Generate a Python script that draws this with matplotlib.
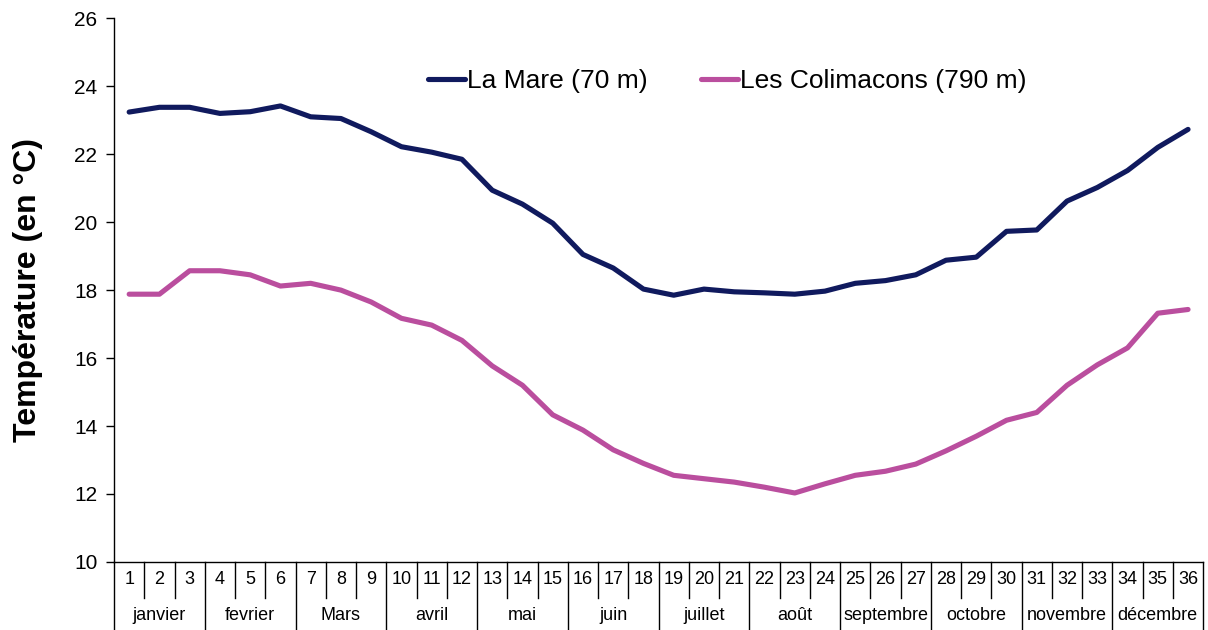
import matplotlib.pyplot as plt
import matplotlib.transforms as mtransforms
import numpy as np

plt.rcParams['font.family'] = ['Liberation Sans', 'DejaVu Sans']

# decades 1..36
decades = list(range(1, 37))
months = ['janvier', 'fevrier', 'Mars', 'avril', 'mai', 'juin',
          'juillet', 'août', 'septembre', 'octobre', 'novembre', 'décembre']

la_mare = [23.24, 23.38, 23.38, 23.20, 23.25, 23.42, 23.10, 23.05, 22.66,
           22.22, 22.06, 21.85, 20.94, 20.53, 19.97, 19.05, 18.65, 18.03,
           17.85, 18.03, 17.95, 17.92, 17.88, 17.97, 18.20, 18.28, 18.45,
           18.88, 18.97, 19.73, 19.77, 20.62, 21.02, 21.52, 22.20, 22.73]
colimacons = [17.88, 17.88, 18.57, 18.57, 18.45, 18.12, 18.20, 18.00, 17.65,
              17.17, 16.97, 16.52, 15.77, 15.20, 14.33, 13.88, 13.30, 12.90,
              12.55, 12.45, 12.35, 12.20, 12.03, 12.30, 12.55, 12.67, 12.88,
              13.27, 13.70, 14.17, 14.40, 15.20, 15.80, 16.30, 17.32, 17.43]

fig = plt.figure(figsize=(12.08, 6.3), dpi=100)
ax = fig.add_axes([0.0944, 0.108, 0.9016, 0.863])

ax.plot(decades, la_mare, color='#101A5E', lw=3.7, label='La Mare (70 m)',
        solid_capstyle='round', solid_joinstyle='round')
ax.plot(decades, colimacons, color='#BA4E9E', lw=3.7, label='Les Colimacons (790 m)',
        solid_capstyle='round', solid_joinstyle='round')

ax.set_xlim(0.5, 36.5)
ax.set_ylim(10, 26)
ax.set_yticks(np.arange(10, 27, 2))
ax.tick_params(axis='y', labelsize=15, length=6, width=1, direction='out', pad=6)
ax.set_xticks([])
for s in ['top', 'right']:
    ax.spines[s].set_visible(False)
ax.spines['left'].set_linewidth(1)
ax.spines['bottom'].set_linewidth(1)

ax.set_ylabel('Température (en °C)', fontsize=23, fontweight='bold', labelpad=22)

# table under the axis: decade numbers and months
trans = mtransforms.blended_transform_factory(ax.transData, ax.transAxes)
row1 = -0.066
row2 = -0.125
for d in decades:
    ax.text(d, -0.033, str(d), transform=trans, ha='center', va='center', fontsize=13)
for i in range(37):
    x = i + 0.5
    bottom = row2 if i % 3 == 0 else row1
    ax.plot([x, x], [0, bottom], transform=trans, color='black', lw=1, clip_on=False)
for m, name in enumerate(months):
    ax.text(3 * m + 2, -0.098, name, transform=trans, ha='center', va='center', fontsize=13)

ax.legend(loc='center', bbox_to_anchor=(0.563, 0.885), ncol=2, frameon=False,
          fontsize=19, handlelength=1.4, handletextpad=0.1, columnspacing=2.0)

fig.savefig('out.png', dpi=100)
